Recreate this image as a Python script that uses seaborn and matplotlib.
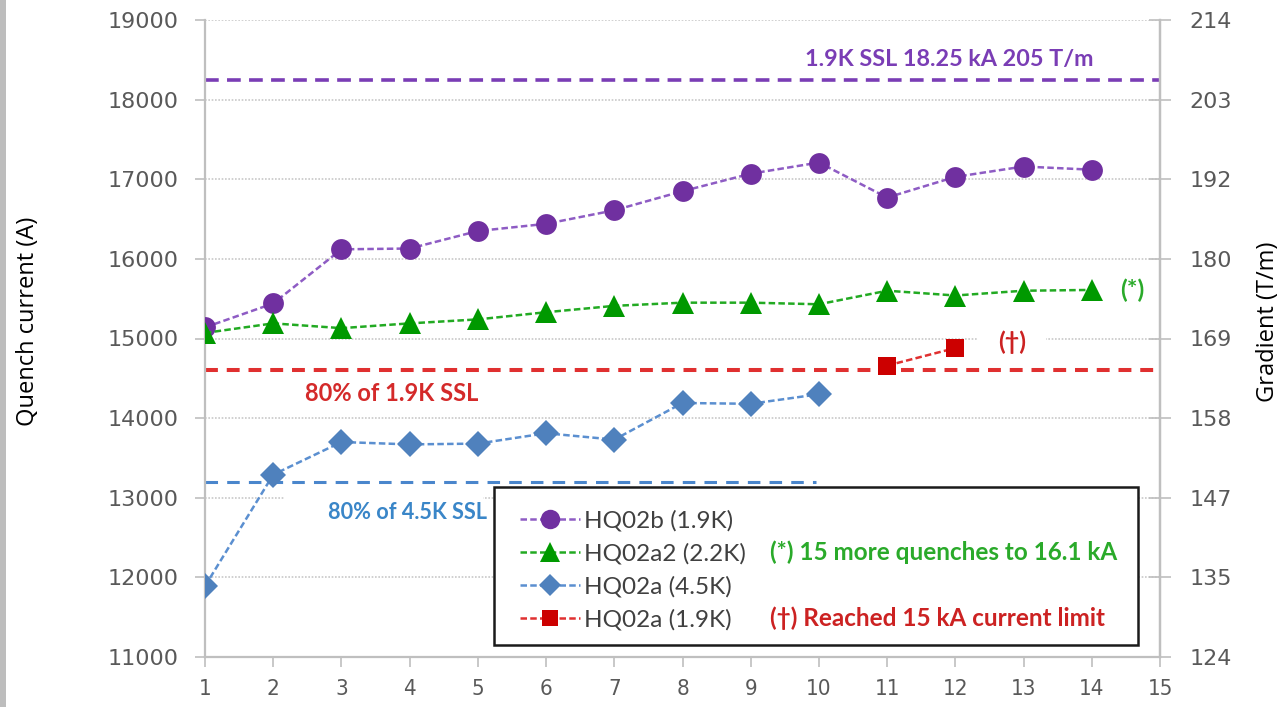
import matplotlib
matplotlib.use("Agg")
import matplotlib.pyplot as plt
from matplotlib.patches import Rectangle
from matplotlib.lines import Line2D
import seaborn as sns

# Quench number on the x axis
quench_b = list(range(1, 15))
quench_a2 = list(range(1, 15))
quench_a45 = list(range(1, 11))
quench_a19 = [11, 12]

# Quench currents (A)
hq02b_19k = [15140, 15440, 16120, 16130, 16350, 16440, 16610, 16850, 17070, 17210,
             16770, 17030, 17160, 17120]
hq02a2_22k = [15070, 15190, 15130, 15190, 15240, 15330, 15410, 15450, 15450, 15430,
              15600, 15540, 15600, 15610]
hq02a_45k = [11890, 13290, 13700, 13670, 13680, 13810, 13730, 14190, 14180, 14300]
hq02a_19k = [14660, 14880]

# Short-sample limits (A)
ssl_19k = 18250
ssl80_19k = 14600
ssl80_45k = 13200

series_labels = ["HQ02b (1.9K)", "HQ02a2 (2.2K)", "HQ02a (4.5K)", "HQ02a (1.9K)"]

left_ticks = [11000, 12000, 13000, 14000, 15000, 16000, 17000, 18000, 19000]
gradient_labels = ["124", "135", "147", "158", "169", "180", "192", "203", "214"]
x_ticks = list(range(1, 16))

sns.set_theme(style="white")
plt.rcParams["font.family"] = ["Lato", "DejaVu Sans"]

W, H = 1284, 707
fig = plt.figure(figsize=(W / 100, H / 100), dpi=100)
ax = fig.add_axes([205 / W, 50 / H, 955 / W, 637 / H])


def ax_xy(px, py):
    """Pixel position -> axes fraction."""
    return (px - 205) / 955, (657 - py) / 637


purple_m, purple_l = "#7030A0", "#8E5CC4"
green_m, green_l = "#009900", "#22AA22"
blue_m, blue_l = "#4F81BD", "#5B8FD0"
red_m, red_l = "#CC0000", "#E03030"

# Horizontal limit lines
ax.axhline(ssl_19k, color="#7A3DB5", lw=2.6, dashes=(3.8, 2.3), zorder=2)
ax.axhline(ssl80_19k, color="#E03030", lw=2.9, dashes=(3.2, 2.2), zorder=2)
ax.plot([1, 9.95], [ssl80_45k, ssl80_45k], color="#4A86CC", lw=2.2, dashes=(4.1, 3.0), zorder=2)

# White backing behind the two boxed notes (cuts the grid lines there)
ax.add_patch(Rectangle((2.17, 12550), 2.9, 560, facecolor="white", edgecolor="none", zorder=1))
ax.add_patch(Rectangle((12.33, 14900), 1.0, 200, facecolor="white", edgecolor="none", zorder=1))

common = dict(lw=1.8, dashes=(2.6, 1.3), markeredgewidth=0, zorder=4)
sns.lineplot(x=quench_b, y=hq02b_19k, ax=ax, color=purple_l, marker="o", markersize=15,
             markerfacecolor=purple_m, markeredgecolor=purple_m, **common)
sns.lineplot(x=quench_a2, y=hq02a2_22k, ax=ax, color=green_l, marker="^", markersize=16,
             markerfacecolor=green_m, markeredgecolor=green_m, **common)
sns.lineplot(x=quench_a45, y=hq02a_45k, ax=ax, color=blue_l, marker="D", markersize=13.5,
             markerfacecolor=blue_m, markeredgecolor=blue_m, **common)
sns.lineplot(x=quench_a19, y=hq02a_19k, ax=ax, color=red_l, marker="s", markersize=12.5,
             markerfacecolor=red_m, markeredgecolor=red_m, **common)

ax.set_xlim(1, 15)
ax.set_ylim(11000, 19000)
ax.set_xticks(x_ticks)
ax.set_yticks(left_ticks)
ax.set_xticklabels([str(t) for t in x_ticks], family="DejaVu Sans", fontstretch="condensed")
ax.set_yticklabels([str(t) for t in left_ticks], family="DejaVu Sans")
ax.yaxis.grid(True, color="#C8C8C8", lw=1.2, linestyle=(0, (1, 1)), zorder=0)
ax.xaxis.grid(False)
ax.set_axisbelow(True)

ax.spines["top"].set_visible(False)
for side in ["left", "right", "bottom"]:
    ax.spines[side].set_color("#BFBFBF")
    ax.spines[side].set_linewidth(1.6)

ax.tick_params(axis="y", which="both", direction="out", length=7, width=1.2, color="#BFBFBF",
               labelsize=16, labelcolor="#595959", pad=12, left=True)
ax.tick_params(axis="x", which="both", direction="out", length=7, width=1.2, color="#BFBFBF",
               labelsize=16, labelcolor="#595959", pad=9, bottom=True)
ax.set_ylabel("Quench current (A)", fontsize=17, color="#000000", va="center",
              family="Open Sans")
ax.yaxis.set_label_coords(*ax_xy(28, 321))

# Gradient scale on the right
ax2 = ax.twinx()
ax2.set_ylim(11000, 19000)
ax2.set_yticks(left_ticks)
ax2.set_yticklabels(gradient_labels, family="DejaVu Sans")
for side in ["top", "left", "bottom"]:
    ax2.spines[side].set_visible(False)
ax2.spines["right"].set_color("#BFBFBF")
ax2.spines["right"].set_linewidth(1.6)
ax2.tick_params(axis="y", direction="inout", length=16, width=1.2, color="#BFBFBF",
                labelsize=16, labelcolor="#595959", pad=13, right=True)
ax2.set_ylabel("Gradient (T/m)", fontsize=17, color="#000000", va="center",
               family="Open Sans")
ax2.yaxis.set_label_coords(*ax_xy(1268, 322))
ax2.grid(False)

# Annotations
ax.text(9.8, 18500, "1.9K SSL 18.25 kA 205 T/m", color="#7A3DB5", fontsize=16.8,
        fontweight="bold", va="center", ha="left", zorder=5)
ax.text(2.47, 14314, "80% of 1.9K SSL", color="#D42A2A", fontsize=17,
        fontweight="bold", va="center", ha="left", zorder=5)
ax.text(2.81, 12820, "80% of 4.5K SSL", color="#3A86C8", fontsize=15.6,
        fontweight="bold", va="center", ha="left", zorder=3)
ax.text(14.6, 15610, "(*)", color="#2AAA2A", fontsize=18, fontweight="bold",
        va="center", ha="center", zorder=5)
ax.text(12.83, 14950, "(\u2020)", color="#CC2222", fontsize=18, fontweight="bold",
        va="center", ha="center", zorder=5)

# Legend box with notes
handles = [
    Line2D([], [], color=purple_l, lw=1.8, dashes=(2.6, 1.3), marker="o", markersize=14,
           markerfacecolor=purple_m, markeredgewidth=0),
    Line2D([], [], color=green_l, lw=1.8, dashes=(2.6, 1.3), marker="^", markersize=14,
           markerfacecolor=green_m, markeredgewidth=0),
    Line2D([], [], color=blue_l, lw=1.8, dashes=(2.6, 1.3), marker="D", markersize=11,
           markerfacecolor=blue_m, markeredgewidth=0),
    Line2D([], [], color=red_l, lw=1.8, dashes=(2.6, 1.3), marker="s", markersize=12,
           markerfacecolor=red_m, markeredgewidth=0),
]
bx0, by1 = ax_xy(494, 487)
bx1, by0 = ax_xy(1138, 645)
ax.add_patch(Rectangle((bx0, by0), bx1 - bx0, by1 - by0, transform=ax.transAxes,
                       facecolor="white", edgecolor="#1A1A1A", lw=1.8, zorder=6))
leg = ax.legend(handles, series_labels, loc="upper left",
                bbox_to_anchor=ax_xy(520, 510), frameon=False,
                fontsize=17.5, labelcolor="#404040",
                borderpad=0.0, labelspacing=0.47, handlelength=2.45, handletextpad=0.18,
                borderaxespad=0.0)
leg.set_zorder(7)

ax.text(9.28, 12310, "(*) 15 more quenches to 16.1 kA", color="#2AAA2A", fontsize=17.5,
        fontweight="bold", va="center", ha="left", zorder=8)
ax.text(9.28, 11490, "(\u2020) Reached 15 kA current limit", color="#CC2222", fontsize=17.5,
        fontweight="bold", va="center", ha="left", zorder=8)

# Grey edge along the left border
fig.patches.append(Rectangle((0, 0), 6 / W, 1, transform=fig.transFigure,
                             facecolor="#BDBDBD", edgecolor="none", zorder=0))

fig.savefig("out.png", dpi=100)
